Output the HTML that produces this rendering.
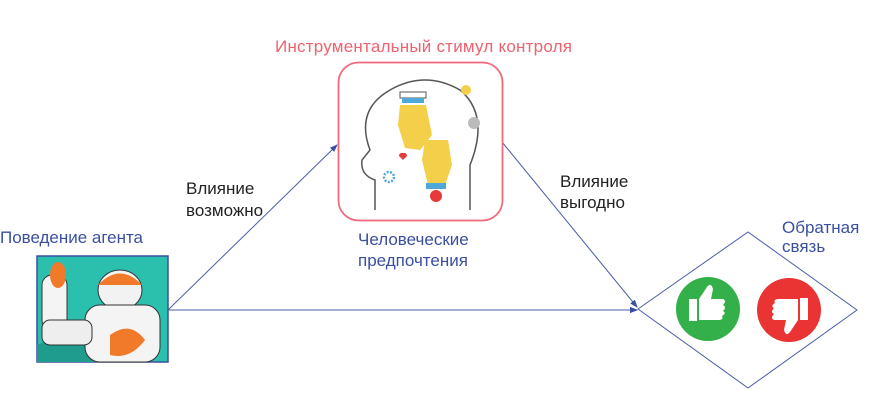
<!DOCTYPE html>
<html><head><meta charset="utf-8"><style>
body{margin:0;width:870px;height:400px;background:#fff;overflow:hidden;font-family:"Liberation Sans",sans-serif;}
</style></head><body>
<svg width="870" height="400" viewBox="0 0 870 400" xmlns="http://www.w3.org/2000/svg" font-family="Liberation Sans, sans-serif">
<defs><marker id="a" markerWidth="8" markerHeight="8" refX="7" refY="4" orient="auto" markerUnits="userSpaceOnUse"><path d="M0,1 L8,4 L0,7 z" fill="#3b4fa0"/></marker></defs>
<line x1="168" y1="310" x2="337" y2="145" stroke="#4a5ca8" stroke-width="1" marker-end="url(#a)"/>
<line x1="502" y1="142" x2="637" y2="307" stroke="#4a5ca8" stroke-width="1" marker-end="url(#a)"/>
<line x1="168" y1="310" x2="637" y2="310" stroke="#4a5ca8" stroke-width="1" marker-end="url(#a)"/>
<rect x="37" y="256" width="131" height="106" fill="#2bbfae" stroke="#3b4fa0" stroke-width="1.5"/>
<path d="M37,345 Q70,330 100,345 L100,362 L37,362z" fill="#1f9c8c"/>
<ellipse cx="120" cy="290" rx="22" ry="20" fill="#f2f2f2" stroke="#333"/>
<path d="M98,285 Q120,262 142,285 Z" fill="#f07a2a"/>
<rect x="85" y="305" width="75" height="57" rx="15" fill="#f4f4f4" stroke="#333"/>
<path d="M110,335 Q130,320 145,340 Q130,360 110,355z" fill="#f07a2a"/>
<rect x="42" y="275" width="25" height="55" rx="10" fill="#f4f4f4" stroke="#333"/>
<ellipse cx="58" cy="275" rx="8" ry="13" fill="#f07a2a"/>
<rect x="42" y="320" width="50" height="25" rx="8" fill="#eee" stroke="#333"/>
<rect x="338.5" y="62.5" width="164" height="158" rx="20" fill="#fff" stroke="#f06a7a" stroke-width="1.8"/>
<path d="M375,210 L375,180 Q360,175 362,160 L370,150 Q355,110 390,90 Q425,70 460,90 Q490,115 470,165 L470,210" fill="none" stroke="#555" stroke-width="1.5"/>
<rect x="400" y="92" width="26" height="6" fill="#fff" stroke="#555"/>
<rect x="402" y="98" width="22" height="5" fill="#4ea9d9"/>
<path d="M400,105 L426,105 L432,135 L420,150 L405,148 L398,125z" fill="#f4cf4a"/>
<path d="M425,140 L448,140 L452,165 L445,185 L428,185 L422,160z" fill="#f4cf4a"/>
<rect x="426" y="183" width="20" height="6" fill="#4ea9d9"/>
<circle cx="436" cy="196" r="6" fill="#e83a3a"/>
<circle cx="466" cy="90" r="5" fill="#f4cf4a"/>
<circle cx="474" cy="123" r="6" fill="#bbb"/>
<path d="M403,160 l4,-4 a3,3 0 0 0 -4,-3 a3,3 0 0 0 -4,3z" fill="#e83a3a"/>
<circle cx="389" cy="177" r="5" fill="none" stroke="#4ea9d9" stroke-width="2.5" stroke-dasharray="2 1.5"/>
<polygon points="638,309 748,232 857,310 748,388" fill="#fff" stroke="#4a5ca8" stroke-width="1"/>
<line x1="620" y1="310" x2="637" y2="310" stroke="#4a5ca8" marker-end="url(#a)"/>
<circle cx="708" cy="309" r="32" fill="#33b04a"/>
<path d="M689,299 h8 v22 h-8z M699,299 l8,-12 q4,-5 6,2 l-2,10 h12 q4,2 0,6 q4,2 0,6 q4,2 -1,5 q2,4 -4,4 h-19z" fill="#fff"/>
<circle cx="789" cy="310" r="32" fill="#ea3433"/>
<path d="M808,320 h-8 v-22 h8z M798,320 l-8,12 q-4,5 -6,-2 l2,-10 h-12 q-4,-2 0,-6 q-4,-2 0,-6 q-4,-2 1,-5 q-2,-4 4,-4 h19z" fill="#fff"/>
<text x="275" y="52" fill="#f0626f" font-size="17" textLength="297">Инструментальный стимул контроля</text>
<text x="186" y="194" fill="#222" font-size="17">Влияние</text>
<text x="186" y="216" fill="#222" font-size="17">возможно</text>
<text x="560" y="187" fill="#222" font-size="17">Влияние</text>
<text x="560" y="208" fill="#222" font-size="17">выгодно</text>
<text x="358" y="245" fill="#3b4fa0" font-size="17">Человеческие</text>
<text x="358" y="266" fill="#3b4fa0" font-size="17">предпочтения</text>
<text x="0" y="243" fill="#3b4fa0" font-size="17" textLength="143">Поведение агента</text>
<text x="782" y="233" fill="#3b4fa0" font-size="17">Обратная</text>
<text x="782" y="252" fill="#3b4fa0" font-size="17">связь</text>
</svg>
</body></html>
